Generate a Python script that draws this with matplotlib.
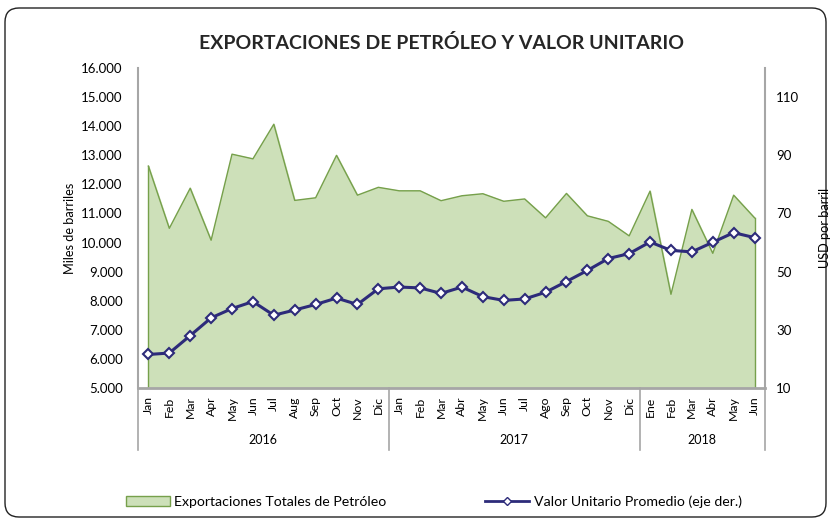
import matplotlib
matplotlib.use('Agg')
import matplotlib.pyplot as plt
import numpy as np
from matplotlib.patches import FancyBboxPatch, Patch
from matplotlib.lines import Line2D

plt.rcParams['font.family'] = ['Lato', 'DejaVu Sans']

# Data
months = ['Jan', 'Feb', 'Mar', 'Apr', 'May', 'Jun', 'Jul', 'Aug', 'Sep', 'Oct', 'Nov', 'Dic',
          'Jan', 'Feb', 'Mar', 'Abr', 'May', 'Jun', 'Jul', 'Ago', 'Sep', 'Oct', 'Nov', 'Dic',
          'Ene', 'Feb', 'Mar', 'Abr', 'May', 'Jun']
years = ['2016', '2017', '2018']
year_counts = [12, 12, 6]

exports = [12630, 10490, 11870, 10080, 13040, 12880, 14070, 11450, 11540, 13000, 11630, 11900,
           11780, 11780, 11440, 11610, 11680, 11420, 11500, 10850, 11690, 10920, 10730, 10230,
           11770, 8220, 11140, 9630, 11630, 10850]
unit_value = [21.5, 22.0, 28.0, 34.1, 37.3, 39.7, 35.0, 36.8, 38.7, 40.9, 38.7, 44.1,
              44.7, 44.4, 42.5, 44.7, 41.4, 40.1, 40.6, 42.9, 46.6, 50.4, 54.5, 56.2,
              60.2, 57.3, 56.8, 60.1, 63.4, 61.7]

fill_color = '#CDE0B9'
edge_color = '#76A04B'
line_color = '#2D2B7A'
axis_gray = '#A6A6A6'
text_color = '#262626'

fig = plt.figure(figsize=(8.31, 5.2), dpi=100)

# rounded frame around the whole chart
frame = FancyBboxPatch((5, 3), 821, 509, boxstyle='round,pad=0,rounding_size=14',
                       transform=None, facecolor='white', edgecolor='#222222', linewidth=1.0,
                       zorder=-10)
fig.patches.append(frame)

ax = fig.add_axes([0.166, 0.254, 0.7546, 0.615])
ax.patch.set_alpha(0)
x = np.arange(len(months))

ax.fill_between(x, 5000, exports, color=fill_color, zorder=1)
ax.plot(x, exports, color=edge_color, linewidth=1.0, zorder=2)
ax.plot([x[0], x[0]], [5000, exports[0]], color=edge_color, linewidth=1.0, zorder=2)
ax.plot([x[-1], x[-1]], [5000, exports[-1]], color=edge_color, linewidth=1.0, zorder=2)

ax.set_xlim(-0.5, len(months) - 0.5)
ax.set_ylim(5000, 16000)
ax.set_yticks(np.arange(5000, 16001, 1000))
ax.set_yticklabels(['{:,}'.format(v).replace(',', '.') for v in range(5000, 16001, 1000)])
ax.set_xticks(x)
ax.set_xticklabels(months, rotation=90, fontsize=8.8)
ax.tick_params(axis='x', length=0, pad=6)
ax.tick_params(axis='y', length=0, labelsize=9.5, pad=11)
ax.set_ylabel('Miles de barriles', fontsize=9.2, labelpad=4)

for s in ['top', 'right']:
    ax.spines[s].set_visible(False)
ax.spines['left'].set_color(axis_gray)
ax.spines['bottom'].set_color(axis_gray)
ax.spines['left'].set_linewidth(1.5)
ax.spines['bottom'].set_linewidth(2)

ax2 = ax.twinx()
ax2.plot(x, unit_value, color=line_color, linewidth=2.2, marker='D', markersize=5,
         markerfacecolor='white', markeredgecolor=line_color, markeredgewidth=1.5, zorder=3)
ax2.set_ylim(10, 120)
ax2.set_yticks(np.arange(10, 111, 20))
ax2.tick_params(axis='y', length=0, labelsize=9.5, pad=8)
ax2.set_ylabel('USD por barril', fontsize=9.2, labelpad=14)
for s in ['top', 'left', 'bottom']:
    ax2.spines[s].set_visible(False)
ax2.spines['right'].set_color(axis_gray)
ax2.spines['right'].set_linewidth(1.5)

# multi-level category axis: year groups
trans = ax.get_xaxis_transform()
bounds = np.cumsum([0] + year_counts) - 0.5
for b in bounds:
    ax.add_line(Line2D([b, b], [0, -0.195], transform=trans, color=axis_gray,
                       linewidth=1.2, clip_on=False))
for i, yr in enumerate(years):
    ax.text((bounds[i] + bounds[i + 1]) / 2, -0.163, yr, transform=trans,
            ha='center', va='center', fontsize=9)

fig.text(0.531, 0.918, 'EXPORTACIONES DE PETRÓLEO Y VALOR UNITARIO',
         ha='center', va='center', fontsize=14, fontweight='bold', color=text_color)

handles = [Patch(facecolor=fill_color, edgecolor=edge_color, linewidth=1.0),
           Line2D([], [], color=line_color, linewidth=2, marker='D', markersize=4,
                  markerfacecolor='white', markeredgecolor=line_color)]
fig.legend(handles, ['Exportaciones Totales de Petróleo', 'Valor Unitario Promedio (eje der.)'],
           loc='center', bbox_to_anchor=(0.522, 0.036), ncol=2, frameon=False,
           fontsize=10.2, handlelength=3.1, columnspacing=7.0, handletextpad=0.3)

fig.savefig('out.png', dpi=100)
